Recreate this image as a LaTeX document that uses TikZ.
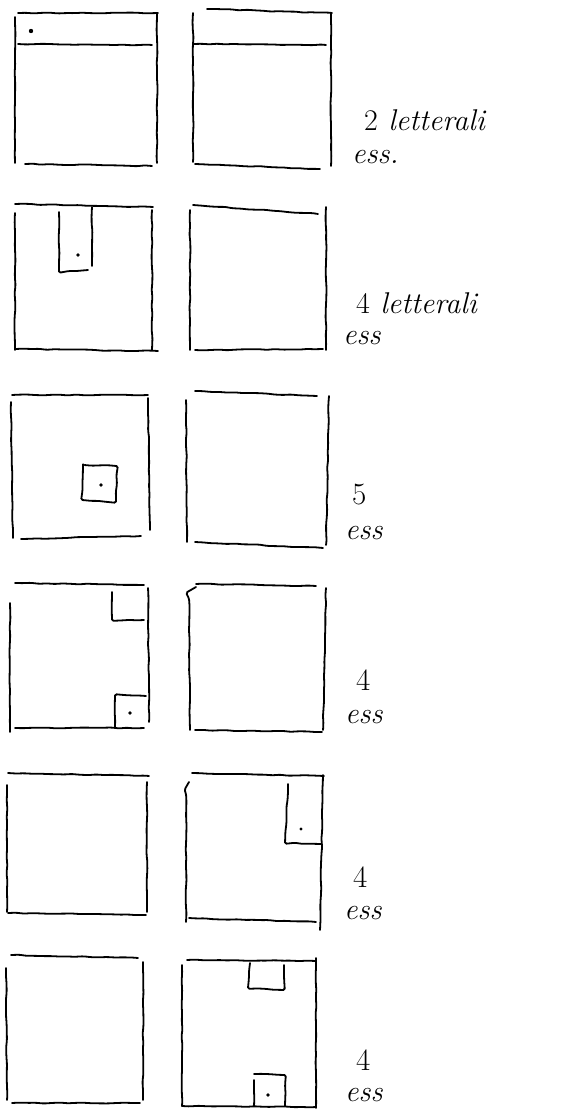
\documentclass[tikz,border=0pt]{standalone}
\usepackage{tikz}
\usetikzlibrary{decorations.pathmorphing}

\begin{document}
\begin{tikzpicture}[x=1pt,y=-1pt,
    tratto/.style={line width=1.8pt, line cap=round, rounded corners=1.5pt,
      decorate, decoration={random steps, segment length=8pt, amplitude=0.5pt}},
    nota/.style={anchor=west, inner sep=0pt, font=\fontsize{30}{34}\selectfont\itshape},
    cifra/.style={anchor=west, inner sep=0pt, font=\fontsize{31}{34}\selectfont}]
    \useasboundingbox (0,0) rectangle (560,1110);
    % Riga 1
    \draw[tratto] (18,13) -- (158,13);
    \draw[tratto] (15,17) -- (15,163);
    \draw[tratto] (157,14) -- (157,163);
    \draw[tratto] (25,164) -- (152,166);
    \draw[tratto] (18,44) -- (152,45);
    \draw[tratto] (207,9) -- (332,13);
    \draw[tratto] (193,13) -- (193,162);
    \draw[tratto] (331,13) -- (331,166);
    \draw[tratto] (195,164) -- (320,169);
    \draw[tratto] (193,44) -- (326,45);
    \fill (31,31) circle (2.2pt);
    \node[nota] (n1a) at (364,120) {{\upshape 2} letterali};
    \node[nota] (n1b) at (352,157) {ess.};
    % Riga 2
    \draw[tratto] (15,204) -- (153,207);
    \draw[tratto] (15,213) -- (15,350);
    \draw[tratto] (152,210) -- (152,350);
    \draw[tratto] (15,349) -- (158,351);
    \draw[tratto] (59,212) -- (59,272) -- (88,270);
    \draw[tratto] (92,207) -- (92,266);
    \draw[tratto] (193,205) -- (318,214);
    \draw[tratto] (190,210) -- (190,350);
    \draw[tratto] (326,207) -- (326,350);
    \draw[tratto] (195,350) -- (323,349);
    \fill (78,255) circle (1.8pt);
    \node[nota] (n2a) at (356,303) {{\upshape 4} letterali};
    \node[nota] (n2b) at (343,338) {ess};
    % Riga 3
    \draw[tratto] (12,395) -- (148,395);
    \draw[tratto] (11,402) -- (13,538);
    \draw[tratto] (148,398) -- (150,530);
    \draw[tratto] (21,539) -- (141,536);
    \draw[tratto] (83,465) -- (117,466) -- (116,502) -- (82,500) -- cycle;
    \draw[tratto] (195,391) -- (317,396);
    \draw[tratto] (186,400) -- (187,542);
    \draw[tratto] (329,396) -- (326,545);
    \draw[tratto] (195,542) -- (323,548);
    \fill (101,485) circle (1.8pt);
    \node[cifra] (n3a) at (352,495) {5};
    \node[nota] (n3b) at (345,533) {ess};
    % Riga 4
    \draw[tratto] (15,583) -- (144,585);
    \draw[tratto] (10,603) -- (10,732);
    \draw[tratto] (148,588) -- (149,722);
    \draw[tratto] (15,728) -- (144,728);
    \draw[tratto] (112,592) -- (112,620) -- (144,620);
    \draw[tratto] (115,728) -- (115,695) -- (146,696);
    \draw[tratto] (196,587) to[out=-150,in=90] (189,597) -- (190,730);
    \draw[tratto] (196,584) -- (316,586);
    \draw[tratto] (326,588) -- (323,730);
    \draw[tratto] (195,730) -- (322,732);
    \fill (130,713) circle (1.8pt);
    \node[cifra] (n4a) at (356,680) {4};
    \node[nota] (n4b) at (345,717) {ess};
    % Riga 5
    \draw[tratto] (8,773) -- (149,776);
    \draw[tratto] (7,785) -- (7,912);
    \draw[tratto] (147,782) -- (147,912);
    \draw[tratto] (8,913) -- (146,915);
    \draw[tratto] (192,773) -- (324,776);
    \draw[tratto] (189,782) to[out=-120,in=90] (186,792) -- (186,922);
    \draw[tratto] (323,775) -- (320,930);
    \draw[tratto] (189,918) -- (316,922);
    \draw[tratto] (288,784) -- (285,843) -- (321,844);
    \fill (301,829) circle (1.6pt);
    \node[cifra] (n5a) at (353,877) {4};
    \node[nota] (n5b) at (344,913) {ess};
    % Riga 6
    \draw[tratto] (11,955) -- (138,958);
    \draw[tratto] (6,968) -- (7,1100);
    \draw[tratto] (143,962) -- (143,1100);
    \draw[tratto] (12,1103) -- (140,1103);
    \draw[tratto] (187,960) -- (316,961);
    \draw[tratto] (182,965) -- (182,1106);
    \draw[tratto] (316,958) -- (316,1108);
    \draw[tratto] (182,1106) -- (316,1107);
    \draw[tratto] (250,963) -- (248,988) -- (284,990) -- (284,965);
    \draw[tratto] (254,1106) -- (254,1080);
    \draw[tratto] (254,1074) -- (285,1075) -- (285,1106);
    \fill (268,1095) circle (1.8pt);
    \node[cifra] (n6a) at (356,1060) {4};
    \node[nota] (n6b) at (345,1095) {ess};
\end{tikzpicture}
\end{document}
